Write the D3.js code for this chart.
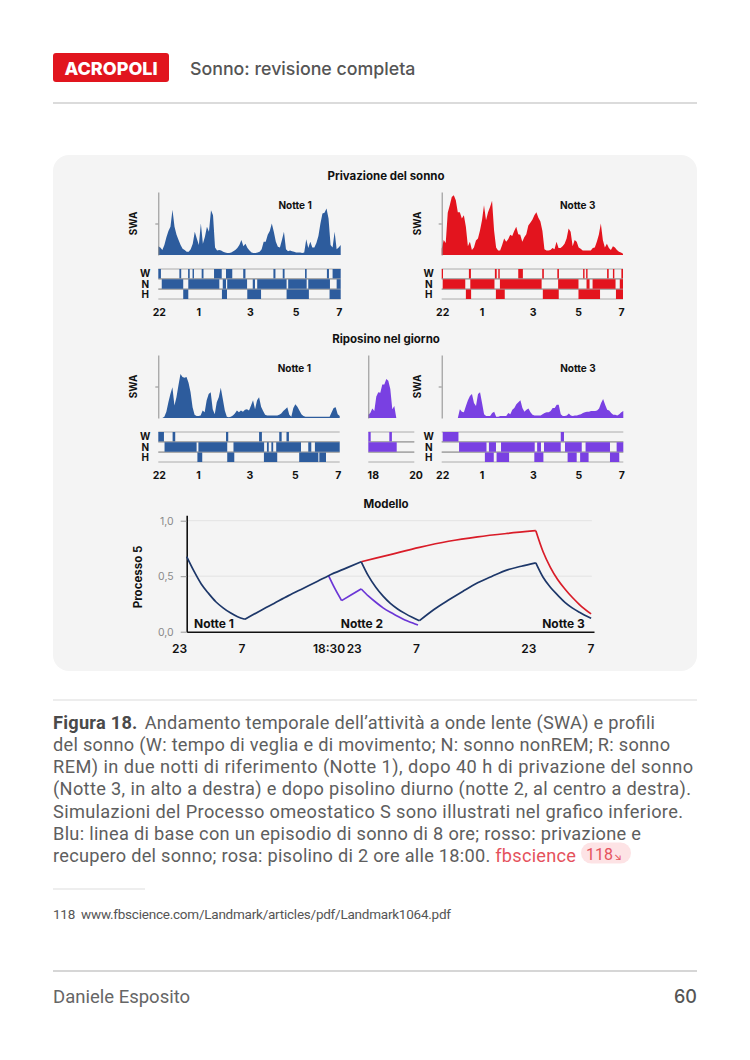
<!DOCTYPE html>
<html>
<head>
<meta charset="utf-8">
<script src="https://cdn.jsdelivr.net/npm/d3@7"></script>
<style>
  body { margin: 0; background: #fff; }
  text { font-family: Inter, "Noto Sans", sans-serif; }
  .cap { font-family: Roboto, "Noto Sans", sans-serif; }
</style>
</head>
<body>
<svg id="page" width="750" height="1060"></svg>
<script>
// ---- data ----
const stages = ['W', 'N', 'H'];
const nightTicks = ['22', '1', '3', '5', '7'];
const nightTickBins = [0.5, 20, 45.4, 68, 89.3];
const napTicks = ['18', '20'];
const napTickBins = [2.5, 23.9];

// SWA per bin (90 bins a notte, 0-100)
const swaDepN1 = [14,12,8,16,28,38,45,72,45,32, 24,16,10,8,5,5,9,18,37,26, 16,50,18,29,45,37,71,63,12,7,
  8,7,5,4,3,3,4,6,8,11, 16,24,14,18,11,7,4,3,3,4, 5,9,21,21,32,38,50,37,21,13,
  12,24,37,9,6,7,6,5,4,4, 4,3,4,25,11,21,12,12,19,30, 50,66,67,74,58,16,12,37,9,12, 16];
const swaDepN3 = [10,24,19,67,79,92,95,87,68,68, 58,63,45,14,21,8,12,23,26,39, 55,79,55,68,76,86,39,12,7,7,
  16,26,21,25,32,30,38,45,33,32, 21,28,33,47,51,56,63,68,59,53, 38,9,7,7,8,11,9,21,11,11,
  14,18,26,42,37,14,24,21,12,10, 7,7,7,7,7,11,12,21,32,50, 24,12,18,11,8,14,12,8,5,4, 2];
const swaNapN1 = [0,0,0,2,10,25,38,49,20,33, 52,70,65,64,65,56,41,17,5,3, 3,4,12,9,28,38,41,14,6,25,
  33,48,30,12,2,1,2,4,7,12, 9,12,10,13,14,12,20,28,14,28, 33,18,11,5,4,4,4,4,4,4,
  5,7,11,14,17,5,2,16,22,18, 12,6,3,2,2,2,2,2,2,2, 2,2,2,2,2,2,9,16,17,6, 3];
const swaNap = [5,8,15,11,34,41,40,53,53,62,59,46,14,19,0];
const swaNapN3 = [0,0,0,0,0,0,0,0,0,14, 10,9,19,28,35,38,24,19,38,41, 24,6,3,3,3,8,10,2,2,3,
  3,3,3,8,6,13,16,22,25,28, 16,10,13,15,9,5,4,4,4,4, 6,8,9,9,11,16,16,21,21,6,
  3,3,4,7,4,3,4,4,5,6, 8,9,10,10,11,11,11,12,15,24, 30,21,13,12,8,5,5,4,6,9, 11];

// ipnogrammi: [W, N, H] -> episodi [inizio, fine] in bin
const hypDepN1 = [
  [[0,1.3],[10.4,11.3],[14.7,15.5],[16.9,17.6],[21.4,22.3],[27.5,31.3],[33.4,36.5],[41.9,43],[56.8,57.8],[61.4,62.3],[72.4,73.2],[83.2,84.2],[86,90]],
  [[1.7,12.3],[14.8,30.1],[31.8,33.4],[34,43.8],[46.6,47.7],[48.8,63.3],[64.1,73.2],[74,84.7],[88,90]],
  [[12.3,14.8],[31.4,33.9],[43.9,50.7],[63.3,74.3],[84.5,90]]
];
const hypDepN3 = [
  [[0,0.6],[13.5,14.5],[26.4,27.3],[28.1,28.8],[38,40.3],[49.9,50.7],[57.4,58.2],[70.2,70.9],[71.7,72.4],[82.1,82.9],[85,85.7],[89.2,90]],
  [[0.5,11.7],[14.2,26.2],[28.9,49.6],[57.8,67.9],[71.9,73.4],[74.9,86.3],[88.4,90]],
  [[12,14.6],[26.9,31.3],[50.2,58.1],[67.9,78.6],[86.5,90]]
];
const hypNapN1 = [
  [[0,2.8],[7.1,8.4],[33.6,34.7],[50,51.4],[60,61.2],[63.6,64.8]],
  [[3.1,19],[19.9,34.2],[37.3,52.5],[53.9,54.8],[56.1,57],[58.5,70.8],[74.4,75.9],[77.7,90]],
  [[19.4,21.8],[34.2,37.7],[52.4,59],[69.9,79.4],[79.9,83.2]]
];
const hypNap = [[[0,1.2],[10.5,11.8]], [[0,14.2]], []];
const hypNapN3 = [
  [[0.5,8.3],[59,60.6]],
  [[8.6,22.2],[23.4,26.9],[29.4,46.1],[47.3,49.2],[50.7,59],[61.1,69.4],[71.3,83.4],[86.7,90]],
  [[21.4,25.8],[27.2,33.4],[45.9,50.4],[62.4,66.9],[68.6,72.8],[83.4,88]]
];

// modello: [ore dalle 23, Processo S]
const modelTickT = [0, 8, 19.5, 24, 32, 48, 56];
const modelTickLabels = ['23', '7', '18:30', '23', '7', '23', '7'];
const modelNights = ['Notte 1', 'Notte 2', 'Notte 3'];
const modelNightT = [3.75, 24.1, 51.8];
const sBlue = [[0,0.676],[1,0.545],[2,0.43],[3,0.345],[4,0.27],[5,0.215],[6,0.17],[7,0.135],[8,0.112],
  [10,0.185],[12,0.255],[14,0.325],[16,0.39],[18,0.455],[19.5,0.505],[22,0.575],[24,0.63],
  [25,0.5],[26,0.4],[27,0.32],[28,0.255],[29,0.205],[30,0.165],[31,0.13],[32,0.099],
  [34,0.2],[36,0.285],[38,0.365],[40,0.44],[42,0.5],[44,0.555],[46,0.59],[48,0.62],
  [49,0.49],[50,0.4],[51,0.33],[52,0.265],[53,0.215],[54,0.175],[55.6,0.12]];
const sRed = [[24,0.63],[28,0.695],[32,0.76],[36,0.815],[40,0.855],[44,0.885],[48,0.91],
  [49,0.72],[50,0.58],[51,0.47],[52,0.385],[53,0.31],[54,0.245],[55.6,0.16]];
const sPurple = [[19.5,0.505],[20.4,0.385],[21.3,0.28],[22.7,0.335],[24,0.385],
  [25,0.32],[26,0.265],[27,0.215],[28,0.175],[29,0.14],[30,0.105],[31,0.08],[31.8,0.06]];

const BLUE = '#2d5c9d', RED = '#e3141e', PURPLE = '#7940e2';

const svg = d3.select('#page');

//header
svg.append('rect').attr('x', 53).attr('y', 53).attr('width', 116).attr('height', 29)
  .attr('rx', 3).attr('fill', '#e1151e');
svg.append('text').attr('x', 111).attr('y', 74.5).attr('text-anchor', 'middle')
  .attr('fill', '#fff').attr('font-size', 18).attr('font-weight', 800).text('ACROPOLI');
svg.append('text').attr('x', 190).attr('y', 74.5).attr('fill', '#555')
  .attr('font-size', 17.8).attr('font-weight', 500).text('Sonno: revisione completa');
svg.append('line').attr('x1', 53).attr('x2', 697).attr('y1', 103).attr('y2', 103)
  .attr('stroke', '#cfcfcf').attr('stroke-width', 1.3);

//chart box
svg.append('rect').attr('x', 53).attr('y', 155).attr('width', 644).attr('height', 516)
  .attr('rx', 16).attr('fill', '#f4f4f4');

const title = (txt, y) => svg.append('text').attr('x', 386).attr('y', y)
  .attr('text-anchor', 'middle').attr('font-size', 11.5).attr('font-weight', 700)
  .attr('fill', '#111').text(txt);
title('Privazione del sonno', 180);
title('Riposino nel giorno', 343);
title('Modello', 508);

function drawNight(o) {
  const g = svg.append('g');
  const x = d3.scaleLinear().domain([0, o.bins]).range([o.x0, o.x0 + o.w]);
  const y = d3.scaleLinear().domain([0, 100]).range([o.yTop + 63, o.yTop]);

  g.append('path').datum(o.swa).attr('fill', o.color)
    .attr('d', d3.area().x((d, i) => x(i)).y0(y(0)).y1(d => y(d)));

  const axis = d3.axisLeft(y).tickValues(o.yTick ? [50] : []).tickSize(3)
    .tickSizeOuter(0).tickFormat('');
  g.append('g').attr('transform', `translate(${o.x0},0)`).call(axis)
    .call(s => s.selectAll('path,line').attr('stroke', '#8c8c8c'));

  if (o.label) {
    g.append('text').attr('transform', `translate(${o.x0 - 21},${o.yTop + 31.5}) rotate(-90)`)
      .attr('text-anchor', 'middle').attr('font-size', 10).attr('font-weight', 700)
      .attr('fill', '#111').text('SWA');
  }
  if (o.notte) {
    g.append('text').attr('x', x(o.bins * 0.75)).attr('y', o.yTop + 16.5)
      .attr('text-anchor', 'middle').attr('font-size', 10).attr('font-weight', 700)
      .attr('fill', '#111').text(o.notte);
  }

  // hypnogram
  const rows = d3.scaleBand().domain(stages).range([o.yTop + 77, o.yTop + 107]).paddingInner(0.07);
  stages.forEach((s, k) => {
    const r = g.append('g');
    [rows(s), rows(s) + rows.bandwidth()].forEach(yy => {
      r.append('line').attr('x1', x(0)).attr('x2', x(o.bins)).attr('y1', yy).attr('y2', yy)
        .attr('stroke', '#9a9a9a').attr('stroke-width', 0.8);
    });
    r.selectAll('rect').data(o.hyp[k]).join('rect')
      .attr('x', d => x(d[0])).attr('width', d => Math.max(x(d[1]) - x(d[0]), 1.3))
      .attr('y', rows(s)).attr('height', rows.bandwidth()).attr('fill', o.color);
    if (o.label) {
      g.append('text').attr('x', o.x0 - 13).attr('y', rows(s) + rows.bandwidth() / 2 + 3.6)
        .attr('text-anchor', 'middle').attr('font-size', 10).attr('font-weight', 700)
        .attr('fill', '#111').text(s);
    }
  });

  g.selectAll('.tk').data(o.ticks).join('text')
    .attr('x', (d, i) => x(o.tickBins[i])).attr('y', o.yTop + 123.5)
    .attr('text-anchor', 'middle').attr('font-size', 10.5).attr('font-weight', 700)
    .attr('fill', '#111').text(d => d);
}

drawNight({ x0: 158.3, w: 182.4, yTop: 192, bins: 90, swa: swaDepN1, hyp: hypDepN1, color: BLUE,
  ticks: nightTicks, tickBins: nightTickBins, notte: 'Notte 1', label: true, yTick: true });
drawNight({ x0: 441.7, w: 181.3, yTop: 192, bins: 90, swa: swaDepN3, hyp: hypDepN3, color: RED,
  ticks: nightTicks, tickBins: nightTickBins, notte: 'Notte 3', label: true, yTick: true });
drawNight({ x0: 158.3, w: 181.4, yTop: 355, bins: 90, swa: swaNapN1, hyp: hypNapN1, color: BLUE,
  ticks: nightTicks, tickBins: nightTickBins, notte: 'Notte 1', label: true, yTick: true });
drawNight({ x0: 368.3, w: 46, yTop: 355, bins: 23, swa: swaNap, hyp: hypNap, color: PURPLE,
  ticks: napTicks, tickBins: napTickBins, notte: null, label: false, yTick: false });
drawNight({ x0: 441.7, w: 181.6, yTop: 355, bins: 90, swa: swaNapN3, hyp: hypNapN3, color: PURPLE,
  ticks: nightTicks, tickBins: nightTickBins, notte: 'Notte 3', label: true, yTick: true });

//model
const mx = d3.scaleLinear().domain([0, 56]).range([186.7, 594]);
const my = d3.scaleLinear().domain([0, 1.05]).range([631.7, 515.15]);
const model = svg.append('g');

model.selectAll('.grid').data([0.5, 1]).join('line')
  .attr('x1', mx(0)).attr('x2', mx(55.7)).attr('y1', d => my(d)).attr('y2', d => my(d))
  .attr('stroke', '#e3e3e3').attr('stroke-width', 1);

model.append('g').attr('transform', `translate(${mx(0)},0)`)
  .call(d3.axisLeft(my).tickValues([0, 0.5, 1]).tickSize(6).tickSizeOuter(0).tickPadding(7)
    .tickFormat(d => d3.format('.1f')(d).replace('.', ',')))
  .call(s => s.select('.domain').attr('stroke', '#111').attr('stroke-width', 1.6))
  .call(s => s.selectAll('.tick line').attr('stroke', '#999'))
  .call(s => s.selectAll('.tick text').attr('fill', '#8a8a8a').attr('font-size', 10.5)
    .attr('font-family', 'Inter, sans-serif'));

model.append('g').attr('transform', `translate(0,${my(0)})`)
  .call(d3.axisBottom(mx).tickValues(modelTickT).tickSize(0).tickSizeOuter(0).tickPadding(13)
    .tickFormat((d, i) => modelTickLabels[i]))
  .call(s => s.select('.domain').attr('stroke', '#111').attr('stroke-width', 1.6))
  .call(s => s.selectAll('.tick text').attr('fill', '#111').attr('font-size', 12)
    .attr('font-weight', 600).attr('font-family', 'Inter, sans-serif')
    .attr('text-anchor', (d, i) => modelTickLabels[i].includes(':') ? 'middle' : 'end'));

svg.append('text').attr('transform', 'translate(142,577) rotate(-90)')
  .attr('text-anchor', 'middle').attr('font-size', 11.5).attr('font-weight', 700)
  .attr('fill', '#111').text('Processo 5');

// split each series where it turns, so the kinks stay sharp
function segments(pts) {
  const out = [];
  let cur = [pts[0]], dir = 0;
  for (let i = 1; i < pts.length; i++) {
    const d = Math.sign(pts[i][1] - pts[i - 1][1]);
    if (dir !== 0 && d !== dir) { out.push(cur); cur = [pts[i - 1]]; }
    cur.push(pts[i]); dir = d;
  }
  out.push(cur);
  return out;
}
const line = d3.line().x(d => mx(d[0])).y(d => my(d[1])).curve(d3.curveMonotoneX);
[[sRed, '#d91c28'], [sPurple, '#6b36d6'], [sBlue, '#1d3769']].forEach(([pts, c]) => {
  model.selectAll(null).data(segments(pts)).join('path')
    .attr('d', line).attr('fill', 'none').attr('stroke', c)
    .attr('stroke-width', 1.7).attr('stroke-linejoin', 'miter');
});

model.selectAll('.nl').data(modelNights).join('text')
  .attr('x', (d, i) => mx(modelNightT[i])).attr('y', 627.5).attr('text-anchor', 'middle')
  .attr('font-size', 12).attr('font-weight', 700).attr('fill', '#111').text(d => d);

//caption
svg.append('line').attr('x1', 53).attr('x2', 697).attr('y1', 700).attr('y2', 700)
  .attr('stroke', '#dcdcdc').attr('stroke-width', 1.2);

const capLines = [
  'Andamento temporale dell’attività a onde lente (SWA) e profili',
  'del sonno (W: tempo di veglia e di movimento; N: sonno nonREM; R: sonno',
  'REM) in due notti di riferimento (Notte 1), dopo 40 h di privazione del sonno',
  '(Notte 3, in alto a destra) e dopo pisolino diurno (notte 2, al centro a destra).',
  'Simulazioni del Processo omeostatico S sono illustrati nel grafico inferiore.',
  'Blu: linea di base con un episodio di sonno di 8 ore; rosso: privazione e',
  'recupero del sonno; rosa: pisolino di 2 ore alle 18:00. '
];
// larghezze delle righe come nella pagina originale
const capWidths = [602, 617, 640, 638, 630, 588, 523];
const cap = svg.append('g').attr('class', 'cap').attr('font-size', 18.2).attr('fill', '#5e5e5e');
capLines.forEach((t, i) => {
  const tx = cap.append('text').attr('class', 'cap').attr('x', 53).attr('y', 728.5 + i * 22.3)
    .attr('textLength', capWidths[i]).attr('lengthAdjust', 'spacing');
  if (i === 0) {
    tx.append('tspan').attr('font-weight', 700).attr('fill', '#4a4a4a').text('Figura 18.');
    tx.append('tspan').attr('dx', 7).text(t);
  } else if (i === capLines.length - 1) {
    tx.append('tspan').text(t);
    tx.append('tspan').attr('fill', '#e5525c').text('fbscience');
    const end = 53 + capWidths[i];
    cap.insert('rect', 'text').attr('x', end + 5).attr('y', 842.5).attr('width', 50).attr('height', 21)
      .attr('rx', 10.5).attr('fill', '#fde3e5');
    cap.append('text').attr('class', 'cap').attr('x', end + 10).attr('y', 860)
      .attr('fill', '#e5525c').attr('font-size', 16).text('118');
    cap.append('text').attr('x', end + 38).attr('y', 860).attr('fill', '#e5525c')
      .attr('font-family', 'DejaVu Sans').attr('font-size', 10).text('↘');
  } else {
    tx.text(t);
  }
});

//footnote + footer
svg.append('line').attr('x1', 53).attr('x2', 145).attr('y1', 889).attr('y2', 889)
  .attr('stroke', '#dedede').attr('stroke-width', 1.2);
const fn = svg.append('text').attr('class', 'cap').attr('x', 53).attr('y', 918.5).attr('font-size', 13.5)
  .attr('fill', '#555').attr('textLength', 398).attr('lengthAdjust', 'spacing');
fn.append('tspan').text('118');
fn.append('tspan').attr('dx', 6).text('www.fbscience.com/Landmark/articles/pdf/Landmark1064.pdf');
svg.append('line').attr('x1', 53).attr('x2', 697).attr('y1', 971).attr('y2', 971)
  .attr('stroke', '#c8c8c8').attr('stroke-width', 1.3);
svg.append('text').attr('class', 'cap').attr('x', 53).attr('y', 1003).attr('font-size', 18.5)
  .attr('fill', '#666').text('Daniele Esposito');
svg.append('text').attr('x', 697).attr('y', 1003).attr('text-anchor', 'end').attr('font-size', 18)
  .attr('font-weight', 500).attr('fill', '#555').text('60');
</script>
</body>
</html>
